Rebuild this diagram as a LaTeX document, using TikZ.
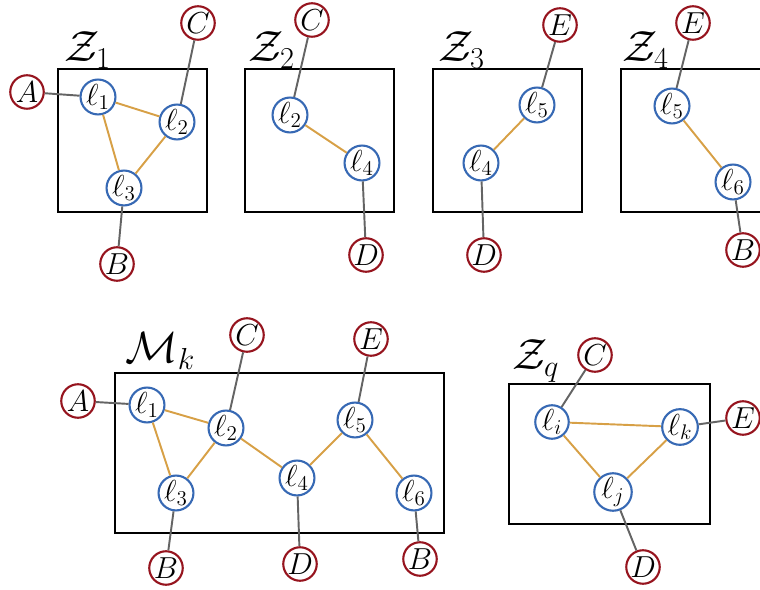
\documentclass[tikz,border=0pt]{standalone}
\usepackage{amsmath}
\usepackage{amssymb}
\definecolor{extred}{RGB}{150,20,30}
\definecolor{locblue}{RGB}{55,105,180}
\definecolor{linkorange}{RGB}{215,160,70}
\definecolor{linkgray}{RGB}{100,100,100}

\begin{document}
\begin{tikzpicture}[x=0.02cm,y=-0.02cm,
    ext/.style={circle,draw=extred,line width=1.2pt,fill=white,minimum size=0.67cm,inner sep=0pt,font=\fontsize{16.5}{20}\selectfont},
    loc/.style={circle,draw=locblue,line width=1.2pt,fill=white,minimum size=0.67cm,inner sep=0pt,font=\fontsize{16.5}{20}\selectfont},
    zone/.style={draw=black,line width=1.1pt,minimum width=2.98cm,minimum height=2.86cm,inner sep=0pt},
    zlabel/.style={anchor=base west,inner sep=0pt,font=\fontsize{23}{28}\selectfont},
    intra/.style={linkorange,line width=1.1pt},
    inter/.style={linkgray,line width=1.1pt}]
    \clip (0,0) rectangle (760,590);

    % first zone
    \node[zone] (Z1) at (132.5,140.5) {};
    \node[zlabel] (Z1lab) at (64,62) {$\mathcal{Z}_1$};
    \node[ext] (z1A) at (27,92) {$A$};
    \node[ext] (z1C) at (198,23) {$C$};
    \node[ext] (z1B) at (117,264) {$B$};
    \node[loc] (z1l1) at (98,97) {$\ell_1$};
    \node[loc] (z1l2) at (177,122) {$\ell_2$};
    \node[loc] (z1l3) at (124,188) {$\ell_3$};
    \draw[intra] (z1l1)--(z1l2) (z1l1)--(z1l3) (z1l2)--(z1l3);
    \draw[inter] (z1A)--(z1l1) (z1C)--(z1l2) (z1l3)--(z1B);

    % second zone
    \node[zone] (Z2) at (319.5,140.5) {};
    \node[zlabel] (Z2lab) at (248,62) {$\mathcal{Z}_2$};
    \node[ext] (z2C) at (312,20) {$C$};
    \node[ext] (z2D) at (366,255) {$D$};
    \node[loc] (z2l2) at (290,115) {$\ell_2$};
    \node[loc] (z2l4) at (362,163) {$\ell_4$};
    \draw[intra] (z2l2)--(z2l4);
    \draw[inter] (z2C)--(z2l2) (z2l4)--(z2D);

    % third zone
    \node[zone] (Z3) at (507.5,140.5) {};
    \node[zlabel] (Z3lab) at (438,62) {$\mathcal{Z}_3$};
    \node[ext] (z3E) at (560,25) {$E$};
    \node[ext] (z3D) at (484,255) {$D$};
    \node[loc] (z3l5) at (537,105) {$\ell_5$};
    \node[loc] (z3l4) at (481,163) {$\ell_4$};
    \draw[intra] (z3l4)--(z3l5);
    \draw[inter] (z3E)--(z3l5) (z3l4)--(z3D);

    % fourth zone
    \node[zone] (Z4) at (695.5,140.5) {};
    \node[zlabel] (Z4lab) at (622,62) {$\mathcal{Z}_4$};
    \node[ext] (z4E) at (693,23) {$E$};
    \node[ext] (z4B) at (743,250) {$B$};
    \node[loc] (z4l5) at (672,106) {$\ell_5$};
    \node[loc] (z4l6) at (733,182) {$\ell_6$};
    \draw[intra] (z4l5)--(z4l6);
    \draw[inter] (z4E)--(z4l5) (z4l6)--(z4B);

    % merged model
    \node[zone,minimum width=6.58cm,minimum height=3.2cm] (Mk) at (279.5,453) {};
    \node[zlabel] (Mklab) at (125,363) {$\mathcal{M}_k$};
    \node[ext] (mA) at (78,401) {$A$};
    \node[ext] (mC) at (247,335) {$C$};
    \node[ext] (mE) at (371,339) {$E$};
    \node[ext] (mB) at (166,568) {$B$};
    \node[ext] (mD) at (300,564) {$D$};
    \node[ext] (mB2) at (420,559) {$B$};
    \node[loc] (ml1) at (147,405) {$\ell_1$};
    \node[loc] (ml2) at (226,428) {$\ell_2$};
    \node[loc] (ml3) at (176,493) {$\ell_3$};
    \node[loc] (ml4) at (297,478) {$\ell_4$};
    \node[loc] (ml5) at (355,420) {$\ell_5$};
    \node[loc] (ml6) at (414,493) {$\ell_6$};
    \draw[intra] (ml1)--(ml2) (ml1)--(ml3) (ml2)--(ml3) (ml2)--(ml4) (ml4)--(ml5) (ml5)--(ml6);
    \draw[inter] (mA)--(ml1) (mC)--(ml2) (ml3)--(mB) (ml4)--(mD) (mE)--(ml5) (ml6)--(mB2);

    % generic zone
    \node[zone,minimum width=4.02cm,minimum height=2.8cm] (Zq) at (609.5,454) {};
    \node[zlabel] (Zqlab) at (512,370) {$\mathcal{Z}_q$};
    \node[ext] (qC) at (595,355) {$C$};
    \node[ext] (qE) at (743,418) {$E$};
    \node[ext] (qD) at (643,567) {$D$};
    \node[loc] (qli) at (552,422) {$\ell_i$};
    \node[loc] (qlk) at (680,427) {$\ell_k$};
    \node[loc] (qlj) at (613,492) {$\ell_j$};
    \draw[intra] (qli)--(qlk) (qli)--(qlj) (qlk)--(qlj);
    \draw[inter] (qC)--(qli) (qlk)--(qE) (qlj)--(qD);
\end{tikzpicture}
\end{document}
